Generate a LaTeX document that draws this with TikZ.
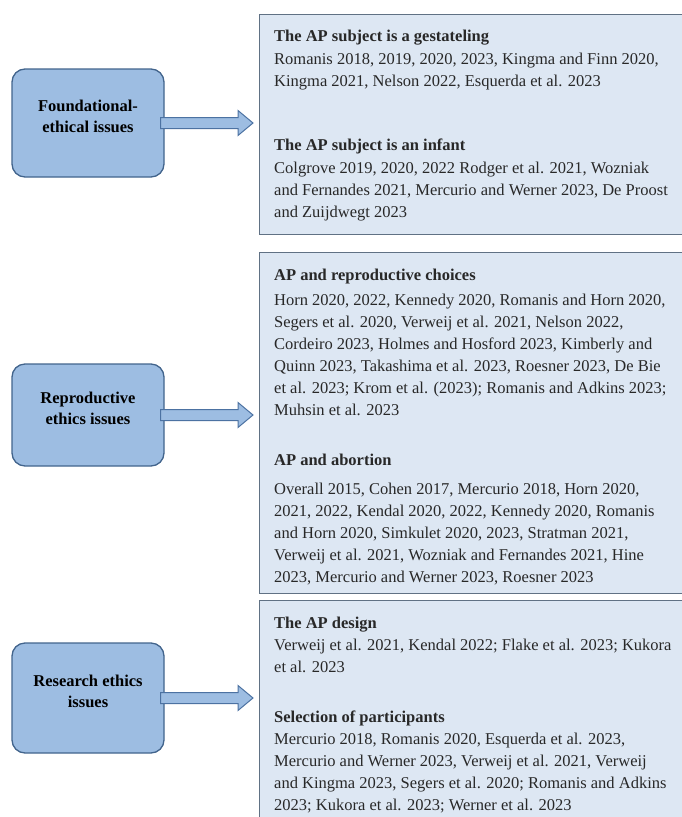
\documentclass[tikz,border=0pt]{standalone}
\usepackage{fontspec}
\setmainfont{Liberation Serif}
\usetikzlibrary{calc}
\definecolor{issuefill}{RGB}{157,189,226}
\definecolor{issueline}{RGB}{66,100,140}
\definecolor{panelfill}{RGB}{221,231,243}
\definecolor{panelline}{RGB}{96,113,132}
\definecolor{arrowline}{RGB}{76,114,162}
\definecolor{txt}{RGB}{40,40,40}
\tikzstyle{issue}=[rectangle, rounded corners=13pt, draw=issueline, line width=1.3pt, fill=issuefill, minimum width=152pt]
\tikzstyle{issuetext}=[align=center, inner sep=0pt, font=\fontsize{16.5}{21}\selectfont\bfseries, text=black]
\tikzstyle{panel}=[rectangle, anchor=north west, draw=panelline, line width=1.3pt, fill=panelfill, minimum width=440pt]
\tikzstyle{head}=[anchor=north west, inner sep=0pt, font=\fontsize{16.5}{22}\selectfont\bfseries, text=txt]
\tikzstyle{refs}=[anchor=north west, inner sep=0pt, align=left, font=\fontsize{16.5}{22}\selectfont, text=txt]
\tikzstyle{fat}=[draw=arrowline, line width=1pt, fill=issuefill, to path={let \p1=(\tikztostart), \p2=(\tikztotarget) in (\x1-4pt,\y1+5.5pt) -- (\x2-21pt,\y1+5.5pt) -- (\x2-21pt,\y1+12.5pt) -- (\x2-6pt,\y1) -- (\x2-21pt,\y1-12.5pt) -- (\x2-21pt,\y1-5.5pt) -- (\x1-4pt,\y1-5.5pt) -- cycle}]

\begin{document}
\begin{tikzpicture}[x=1pt,y=-1pt]
				\useasboundingbox (0,0) rectangle (681,817);
				
				%The issues
				\draw (88,123) node[issue, minimum height=108pt] (f1) {};
				\draw (88,415) node[issue, minimum height=102pt] (f2) {};
				\draw (88,698) node[issue, minimum height=110pt] (f3) {};
				\draw (88,116) node[issuetext] (f1text) {Foundational-\\ethical issues};
				\draw (88,408) node[issuetext] (f2text) {Reproductive\\ethics issues};
				\draw (88,691) node[issuetext] (f3text) {Research ethics\\issues};
				
				%The panels
				\draw (259,14) node[panel, minimum height=220pt] (t1) {};
				\draw (259,252) node[panel, minimum height=341pt] (t2) {};
				\draw (259,600) node[panel, minimum height=230pt] (t3) {};
				
				%Foundational
				\draw (274,29.5) node[head] (h11) {The AP subject is a gestateling};
				\draw (274,52.5) node[refs] (r11) {Romanis 2018, 2019, 2020, 2023, Kingma and Finn 2020,\\Kingma 2021, Nelson 2022, Esquerda et al. 2023};
				\draw (274,138.5) node[head] (h12) {The AP subject is an infant};
				\draw (274,161.5) node[refs] (r12) {Colgrove 2019, 2020, 2022 Rodger et al. 2021, Wozniak\\and Fernandes 2021, Mercurio and Werner 2023, De Proost\\and Zuijdwegt 2023};
				
				%Reproductive
				\draw (274,268.5) node[head] (h21) {AP and reproductive choices};
				\draw (274,293.5) node[refs] (r21) {Horn 2020, 2022, Kennedy 2020, Romanis and Horn 2020,\\Segers et al. 2020, Verweij et al. 2021, Nelson 2022,\\Cordeiro 2023, Holmes and Hosford 2023, Kimberly and\\Quinn 2023, Takashima et al. 2023, Roesner 2023, De Bie\\et al. 2023; Krom et al. (2023); Romanis and Adkins 2023;\\Muhsin et al. 2023};
				\draw (274,453.5) node[head] (h22) {AP and abortion};
				\draw (274,482.5) node[refs] (r22) {Overall 2015, Cohen 2017, Mercurio 2018, Horn 2020,\\2021, 2022, Kendal 2020, 2022, Kennedy 2020, Romanis\\and Horn 2020, Simkulet 2020, 2023, Stratman 2021,\\Verweij et al. 2021, Wozniak and Fernandes 2021, Hine\\2023, Mercurio and Werner 2023, Roesner 2023};
				
				%Research
				\draw (274,616.5) node[head] (h31) {The AP design};
				\draw (274,638.5) node[refs] (r31) {Verweij et al. 2021, Kendal 2022; Flake et al. 2023; Kukora\\et al. 2023};
				\draw (274,710.5) node[head] (h32) {Selection of participants};
				\draw (274,732.5) node[refs] (r32) {Mercurio 2018, Romanis 2020, Esquerda et al. 2023,\\Mercurio and Werner 2023, Verweij et al. 2021, Verweij\\and Kingma 2023, Segers et al. 2020; Romanis and Adkins\\2023; Kukora et al. 2023; Werner et al. 2023};
				
				\draw[fat] (f1.east) to (t1.west);
				\draw[fat] (f2.east) to (t2.west);
				\draw[fat] (f3.east) to (t3.west);
\end{tikzpicture}
\end{document}
